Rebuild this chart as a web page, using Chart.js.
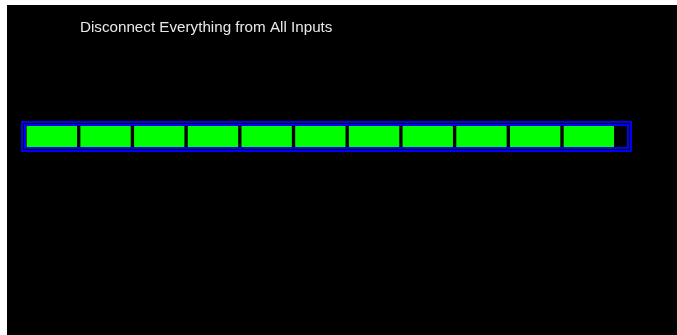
<!DOCTYPE html>
<html>
<head>
<meta charset="utf-8">
<script src="https://cdn.jsdelivr.net/npm/chart.js@4"></script>
<style>
  html, body { margin: 0; padding: 0; background: #fff; }
  #holder { position: absolute; left: 7px; top: 5px; width: 670px; height: 330px; background: #000; }
</style>
</head>
<body>
<div id="holder"><canvas id="bar" width="670" height="330"></canvas></div>
<script>
// progress data
var titleText = "Disconnect Everything from All Inputs";
var categories = ["Inputs"];
var segments = [1, 1, 1, 1, 1, 1, 1, 1, 1, 1, 1];   // one block per finished step
var scaleMax = 11.21;                                // room left after last block

var datasets = segments.map(function (v) {
    return {
        data: [v],
        backgroundColor: "#00ff00",
        borderColor: "#000",
        borderWidth: { left: 2, right: 2, top: 0, bottom: 0 },
        borderSkipped: false,
        barPercentage: 1,
        categoryPercentage: 1
    };
});

//blue double frame round the bar + caption
var frame = {
    id: "frame",
    afterDraw: function (chart) {
        var ctx = chart.ctx, a = chart.chartArea;
        var x = a.left - 1.5, y = a.top - 2.5;
        var w = (a.right + 2.5) - x, h = (a.bottom + 2.5) - y;
        ctx.save();
        ctx.strokeStyle = "#0000ff";
        ctx.lineWidth = 5;
        ctx.strokeRect(x, y, w, h);
        ctx.strokeStyle = "#000";
        ctx.lineWidth = 1;
        ctx.strokeRect(x, y, w, h);
        ctx.fillStyle = "#e8e8e8";
        ctx.font = "15.2px 'Liberation Sans', Arial, sans-serif";
        ctx.textBaseline = "alphabetic";
        ctx.fillText(titleText, 73, 27);
        ctx.restore();
    }
};

new Chart(document.getElementById("bar").getContext("2d"), {
    type: "bar",
    data: { labels: categories, datasets: datasets },
    options: {
        indexAxis: "y",
        responsive: false,
        animation: false,
        layout: { padding: { left: 18, right: 50, top: 121, bottom: 188 } },
        plugins: { legend: { display: false }, tooltip: { enabled: false }, title: { display: false } },
        scales: {
            x: { stacked: true, min: 0, max: scaleMax, display: false },
            y: { stacked: true, display: false }
        }
    },
    plugins: [frame]
});
</script>
</body>
</html>
